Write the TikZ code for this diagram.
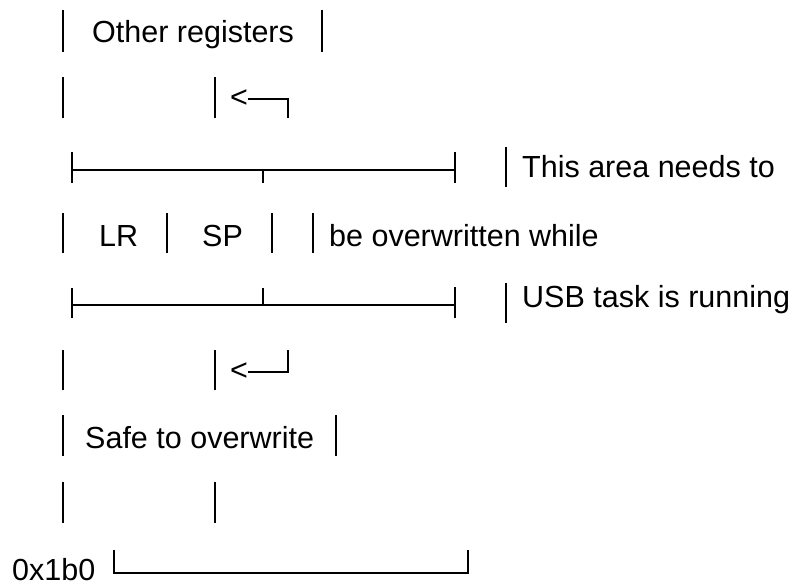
\documentclass[tikz,border=0pt]{standalone}
\usepackage{fontspec}
\setmainfont{Liberation Sans}
\begin{document}
\begin{tikzpicture}[x=1pt, y=-1pt,
    bar/.style={line width=1.8pt},
    lbl/.style={anchor=base west, inner sep=0pt, font=\fontsize{30.5}{35}\selectfont},
    lt/.style={anchor=west, inner sep=0pt, font=\fontsize{30.5}{35}\selectfont}]
    \useasboundingbox (0,0) rectangle (789,586);

    % Other registers
    \draw[bar] (63,10) -- (63,52);
    \draw[bar] (322,10) -- (322,52);
    \node[lbl] (other) at (92,43) {Other registers};

    % upper pointer
    \draw[bar] (63,77) -- (63,118);
    \draw[bar] (215,77) -- (215,118);
    \node[lt] (ltup) at (230,99) {<};
    \coordinate (upend) at (288,118);
    \draw[bar] (ltup.east) -| (upend);

    % top edge of LR/SP block
    \draw[bar] (72,152) -- (72,183);
    \draw[bar] (72,170) -- (455,170);
    \draw[bar] (263,170) -- (263,183);
    \draw[bar] (455,152) -- (455,183);
    \draw[bar] (506,147) -- (506,187);
    \node[lbl] (note1) at (522,177) {This area needs to};

    % LR and SP
    \draw[bar] (63,213) -- (63,253);
    \draw[bar] (167,213) -- (167,253);
    \draw[bar] (272,213) -- (272,253);
    \draw[bar] (313,213) -- (313,253);
    \node[lbl] (lr) at (99,246) {LR};
    \node[lbl] (sp) at (202,246) {SP};
    \node[lbl] (note2) at (329,246) {be overwritten while};

    % bottom edge of LR/SP block
    \draw[bar] (72,288) -- (72,318);
    \draw[bar] (72,305) -- (455,305);
    \draw[bar] (263,288) -- (263,305);
    \draw[bar] (455,287) -- (455,318);
    \draw[bar] (506,283) -- (506,323);
    \node[lbl] (note3) at (522,307) {USB task is running};

    % lower pointer
    \draw[bar] (63,350) -- (63,390);
    \draw[bar] (215,350) -- (215,390);
    \node[lt] (ltdown) at (230,372) {<};
    \coordinate (downend) at (288,350);
    \draw[bar] (ltdown.east) -| (downend);

    % Safe to overwrite
    \draw[bar] (63,415) -- (63,456);
    \draw[bar] (336,415) -- (336,456);
    \node[lbl] (safe) at (85,448) {Safe to overwrite};

    \draw[bar] (63,482) -- (63,523);
    \draw[bar] (215,482) -- (215,523);

    % base address
    \node[lbl] (addr) at (12,580) {0x1b0};
    \draw[bar] (114,550) -- (114,573) -- (468,573) -- (468,550);
\end{tikzpicture}
\end{document}
